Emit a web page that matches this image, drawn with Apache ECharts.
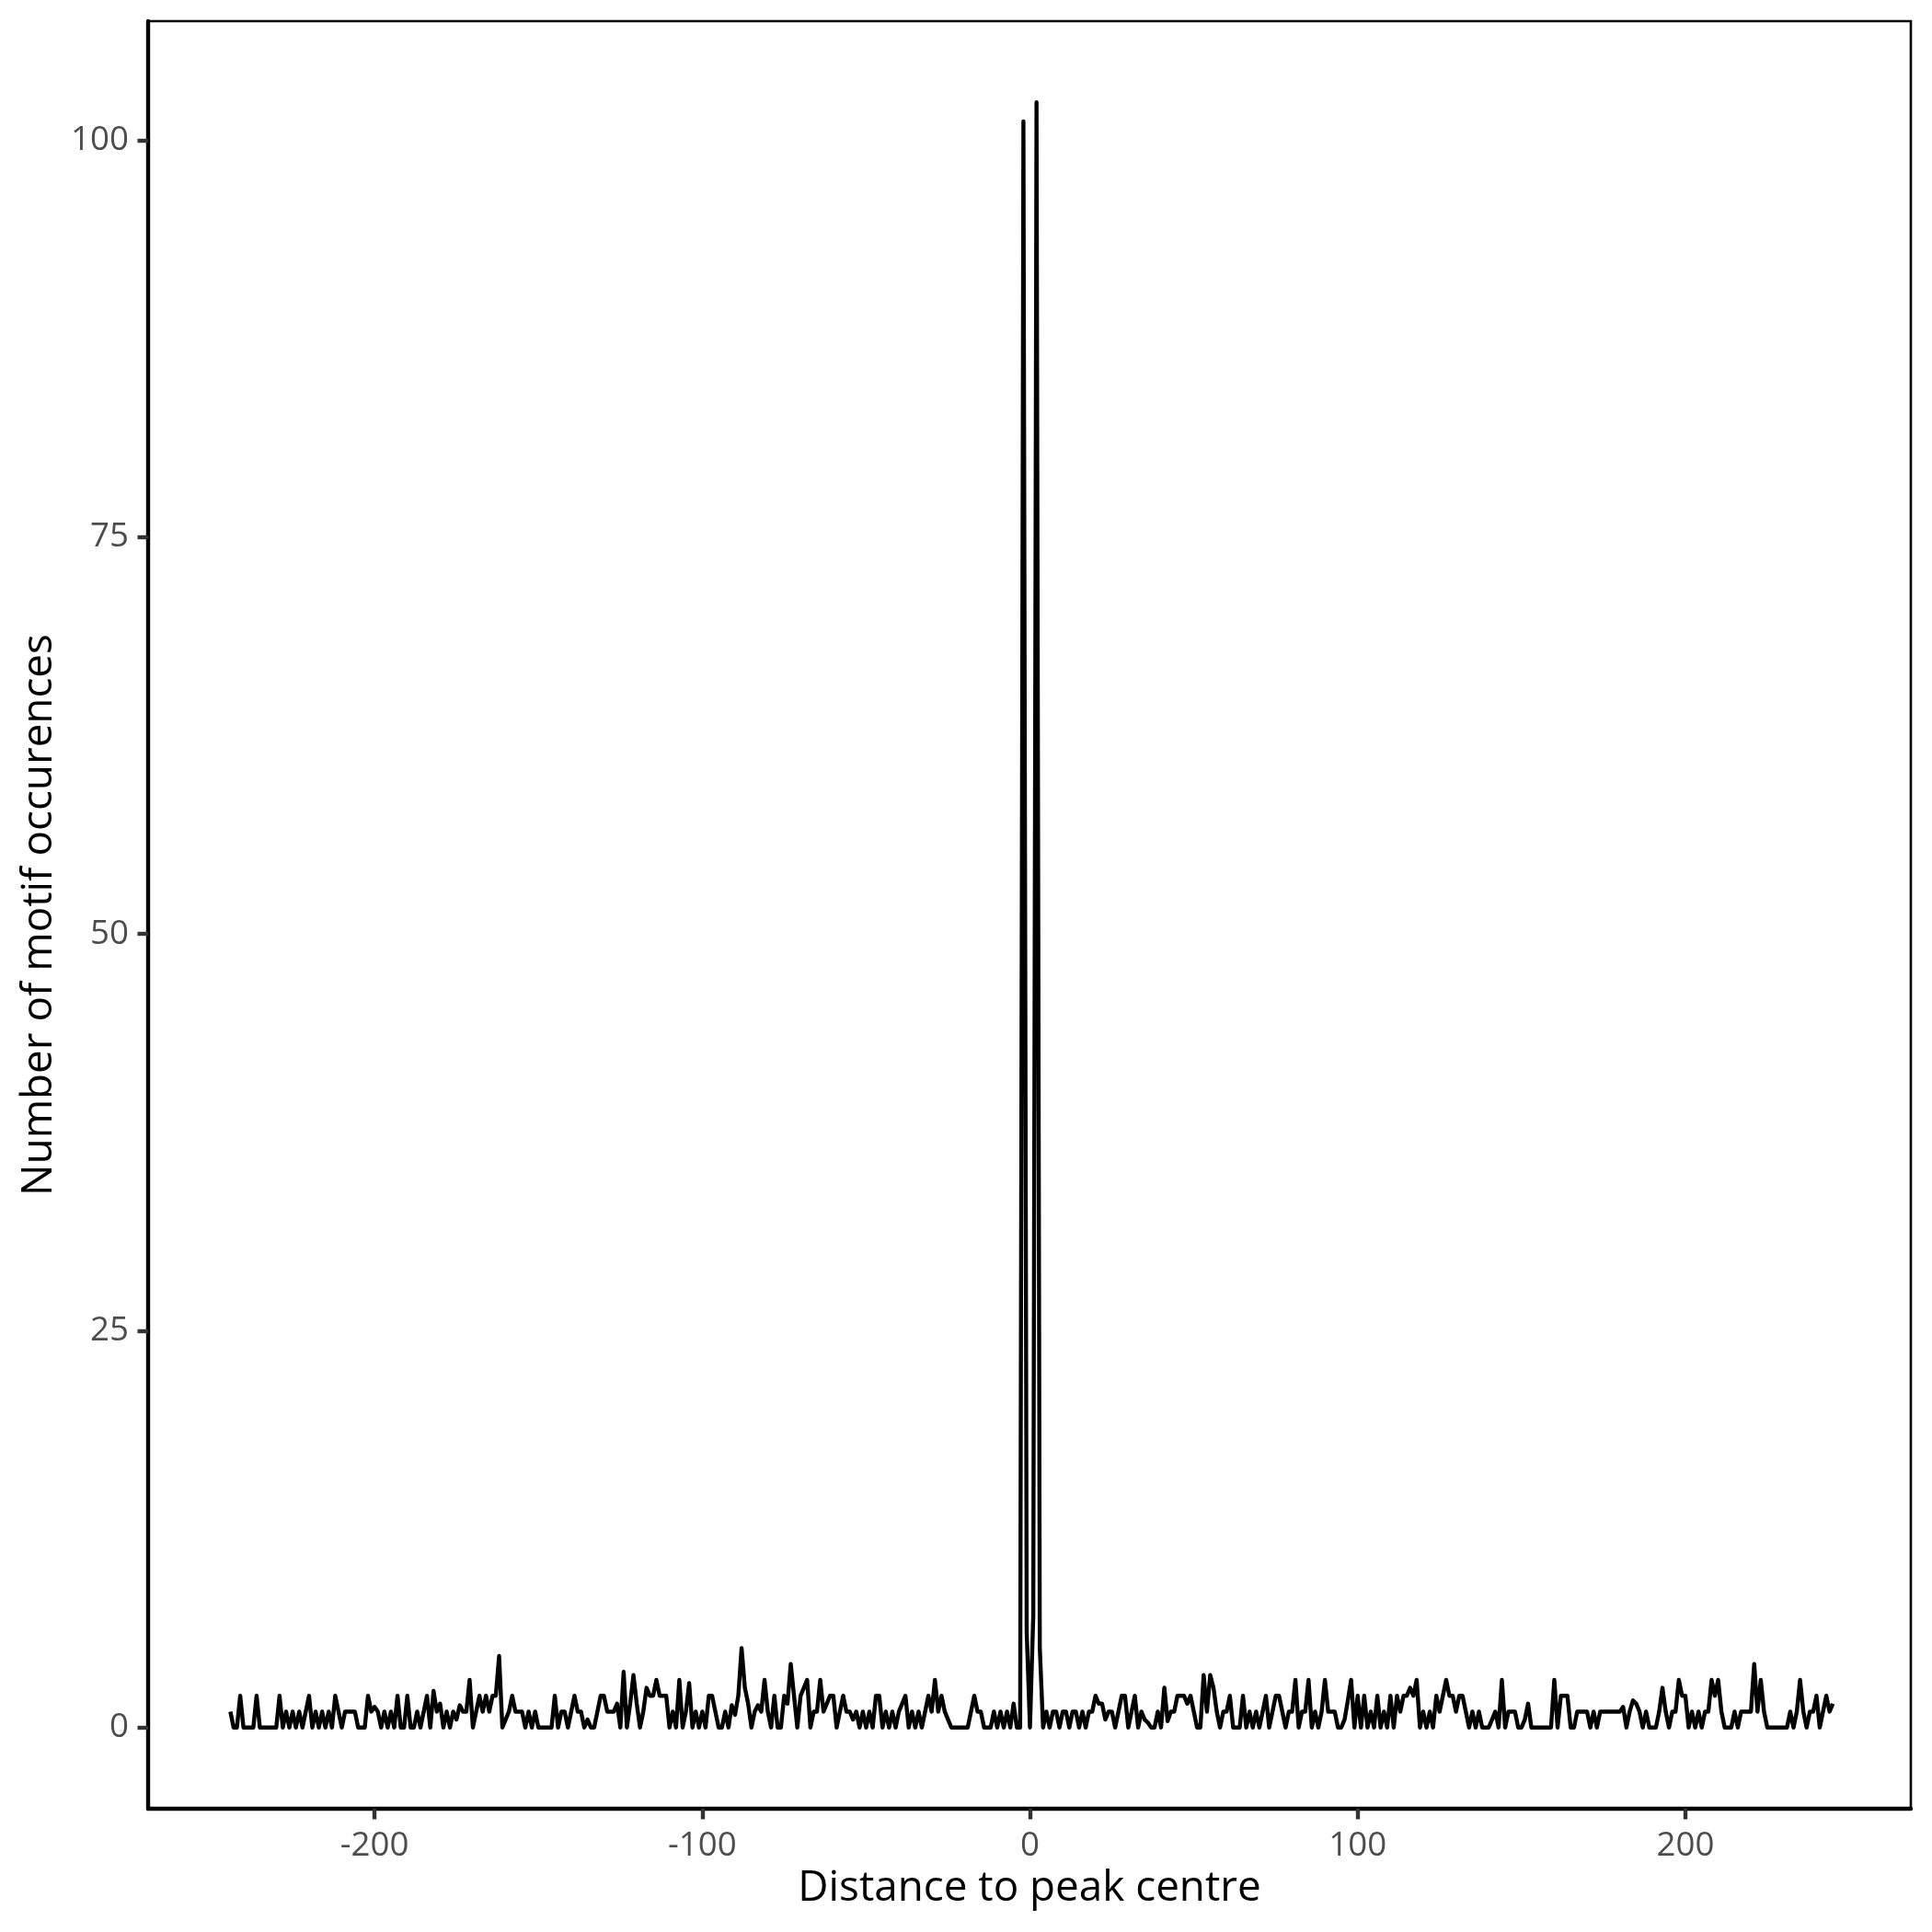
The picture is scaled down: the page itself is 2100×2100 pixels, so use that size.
<!DOCTYPE html>
<html><head><meta charset="utf-8">
<script src="https://cdn.jsdelivr.net/npm/echarts@6/dist/echarts.min.js"></script>
<style>html,body{margin:0;padding:0;background:#fff}#c{width:2100px;height:2100px}</style>
</head><body><div id="c"></div>
<script>
// distance positions run from xStart upward in steps of 1
const xStart = -244;
const counts = [
  1,0,0,2,0,0,0,0,2,0,
  0,0,0,0,0,2,0,1,0,1,
  0,1,0,1,2,0,1,0,1,0,
  1,0,2,1,0,1,1,1,1,0,
  0,0,2,1,1.3,1,0,1,0,1,
  0,2,0,0,2,0,0,1,0,1,
  2,0,2.3,1,1.5,0,1,0,1,0.5,
  1.4,1,1,3,0,1,2,1,2,1,
  2,2,4.5,0,0.5,1,2,1,1,1,
  0,1,0,1,0,0,0,0,0,2,
  0,1,1,0,1,2,1,1,0,0.5,
  0,0,1,2,2,1,1,1,1.5,0,
  3.5,0,1.5,3.3,1.5,0,1,2.5,2,2,
  3,2,2,2,0,1,0,3,0,1,
  2.8,0,1,0,1,0,2,2,1,0,
  0,1,0,1.4,0.8,2,5,2.5,1.5,0,
  1,1.4,1,3,1,0,2,0,0,2,
  1.5,4,2,0,2,2.5,3,0,1,1,
  3,1,1.5,2,2,0,1,2,1,1,
  0.5,1,0,1,0,1,0,2,2,0,
  1,0,1,0,1,1.5,2,0,1,0,
  1,0,1,2,1,3,1,2,1,0.5,
  0,0,0,0,0,0,1,2,1,1,
  0,0,0,1,0,1,0,1,0,1.5,
  0,0,101.2,6,0,7,102.4,5,0,1,
  0,1,1,0,1,1,0,1,1,0,
  1,0,1,1,2,1.5,1.5,0.5,1,1,
  0,1,2,2,0,1,2,0,1,0.5,
  0.3,0,0,1,0,2.5,0.4,1,1,2,
  2,2,1.5,2,1,0,0,3.3,1,3.3,
  2.5,1,0,1,1,2,0,0,0,2,
  0,1,0,1,0,1,2,0,1,2,
  2,1,0,1,1,3,0,1,1,3,
  0,1,0,1,3,1,1,1,0,0,
  0.5,1.7,3,0,2,0,2,0,1,0,
  2,0,1,0,2,0,2,1,2,2,
  2.5,2,3,0,1,0,1,0,2,1,
  2,3,2,2,1,2,2,1,0,1,
  0,1,0,0,0,0.5,1,0,3,0,
  1,1,1,0,0,0.5,1.5,0,0,0,
  0,0,0,0,3,0,2,2,2,0,
  0,1,1,1,1,0,1,0,1,1,
  1,1,1,1,1,1.3,0,1,1.7,1.5,
  1,0,1,0,0,0,1,2.5,1,0,
  1,1,3,2,2,0,1,0,1,0,
  1,1,3,2,3,1,0,0,0,1,
  0,1,1,1,1,4,1,3,1,0,
  0,0,0,0,0,0,1,0,1,3,
  1,0,1,1,2,0,1,2,1,1.5
];
const xTicks = [-200, -100, 0, 100, 200];
const yTicks = [0, 25, 50, 75, 100];
const xTitle = 'Distance to peak centre';
const yTitle = 'Number of motif occurences';

const points = counts.map((v, i) => [xStart + i, v]);
const xLo = xStart, xHi = xStart + counts.length - 1;
const xPad = (xHi - xLo) * 0.05;
const yLo = 0, yHi = Math.max(...counts);
const yPad = (yHi - yLo) * 0.05;

const FONT = 'Open Sans';
const chart = echarts.init(document.getElementById('c'), null, {renderer: 'canvas'});
chart.setOption({
  animation: false,
  backgroundColor: '#ffffff',
  grid: {left: 161, right: 23, top: 23, bottom: 134, show: true, borderColor: '#000', borderWidth: 2.6, backgroundColor: 'transparent'},
  xAxis: {
    type: 'value', min: xLo - xPad - 0.65, max: xHi + xPad - 0.65,
    name: xTitle, nameLocation: 'middle', nameGap: 64,
    nameTextStyle: {fontFamily: FONT, fontSize: 45.8, color: '#000'},
    axisLine: {show: true, onZero: false, lineStyle: {color: '#000', width: 4.4}},
    axisTick: {show: true, length: 11.5, lineStyle: {color: '#333333', width: 4.4}, customValues: xTicks},
    axisLabel: {fontFamily: FONT, fontSize: 36.7, color: '#4D4D4D', margin: 22, customValues: xTicks},
    splitLine: {show: false}
  },
  yAxis: {
    type: 'value', min: yLo - yPad, max: yHi + yPad,
    name: yTitle, nameLocation: 'middle', nameGap: 93, nameRotate: 90,
    nameTextStyle: {fontFamily: FONT, fontSize: 45.8, color: '#000'},
    axisLine: {show: true, onZero: false, lineStyle: {color: '#000', width: 4.4}},
    axisTick: {show: true, length: 11.5, lineStyle: {color: '#333333', width: 4.4}, customValues: yTicks},
    axisLabel: {fontFamily: FONT, fontSize: 36.7, color: '#4D4D4D', margin: 21, customValues: yTicks},
    splitLine: {show: false}
  },
  series: [{
    type: 'line', data: points, showSymbol: false, symbol: 'none',
    lineStyle: {color: '#000', width: 4.4, join: 'round', cap: 'butt'},
    clip: true
  }]
});
</script>
</body></html>
